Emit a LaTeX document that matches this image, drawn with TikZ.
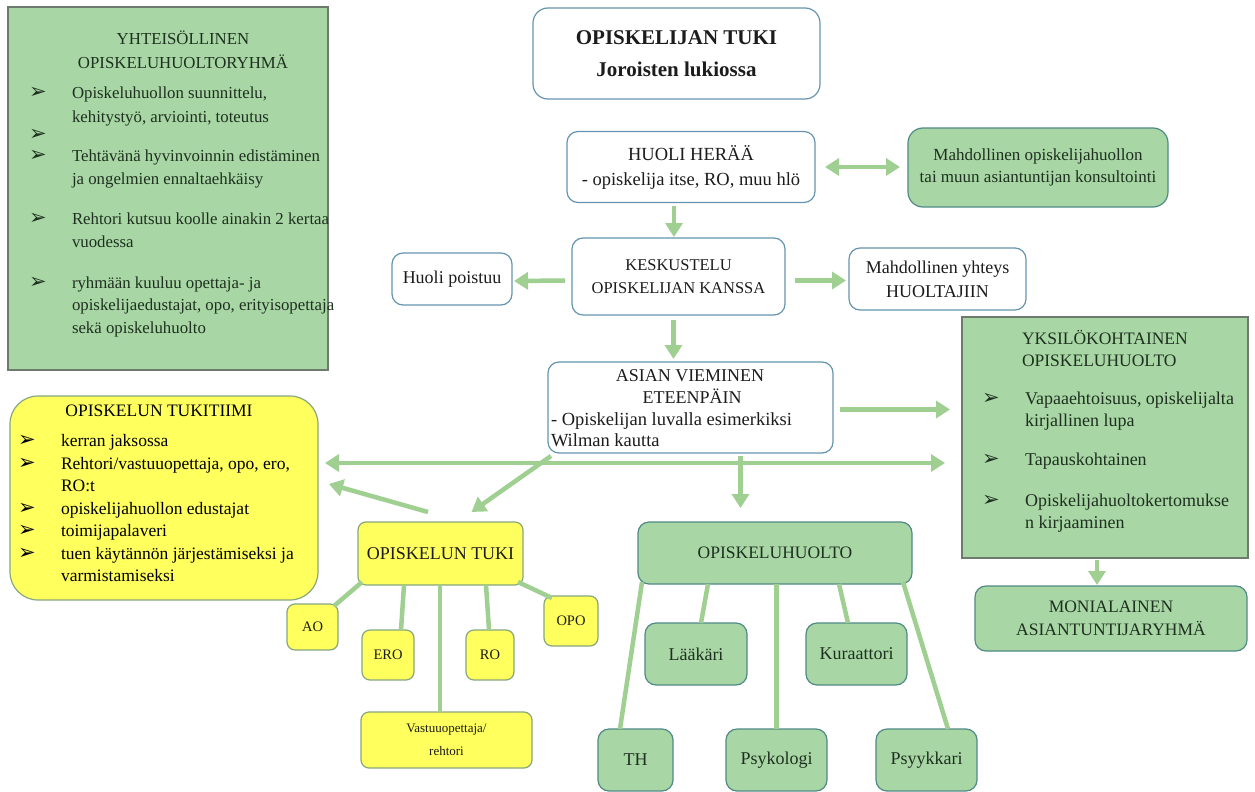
\documentclass[tikz,border=0pt]{standalone}
\usepackage{fontspec}
\setmainfont{Liberation Serif}
\newfontfamily\symf{DejaVu Sans}
\usetikzlibrary{arrows.meta,calc}
\definecolor{lgreen}{HTML}{A8D6A5}
\definecolor{gborder}{HTML}{4F8A86}
\definecolor{sqborder}{HTML}{6E7A6E}
\definecolor{bblue}{HTML}{6595AE}
\definecolor{yfill}{HTML}{FFFF5E}
\definecolor{yborder}{HTML}{86A67E}
\definecolor{cgreen}{HTML}{A0CF92}
\definecolor{gtext}{HTML}{1E301F}
\definecolor{txtdark}{HTML}{1C1C1C}
\newcommand\fs[2]{\fontsize{#1}{#2}\selectfont}
\newcommand\bul{{\symf\fontsize{21}{21}\selectfont ➢}}
\begin{document}
\begin{tikzpicture}[x=1pt,y=-1pt,
  base/.style={inner sep=0pt, outer sep=0pt, line width=1.2pt, align=center, text=txtdark},
  wbox/.style={base, draw=bblue, fill=white, rounded corners=11pt},
  gbox/.style={base, draw=gborder, fill=lgreen, rounded corners=11pt, text=gtext},
  sqbox/.style={base, draw=sqborder, fill=lgreen, text=gtext},
  ybox/.style={base, draw=yborder, fill=yfill, rounded corners=8pt, text=txtdark},
  con/.style={draw=cgreen, line width=4.5pt},
  arr/.style={con, -{Triangle[width=17pt,length=14pt]}},
  darr/.style={con, {Triangle[width=17pt,length=14pt]}-{Triangle[width=17pt,length=14pt]}},
  ln/.style={inner sep=0pt, outer sep=0pt, anchor=base west, font=\fs{17.5}{22}},
  lnc/.style={inner sep=0pt, outer sep=0pt, anchor=base, font=\fs{17.5}{22}},
  bl/.style={inner sep=0pt, outer sep=0pt, anchor=base west},
]
\fill[white] (0,0) rectangle (1255,792);
\useasboundingbox (0,0) rectangle (1255,792);

% ---------- boxes ----------
\node[sqbox, minimum width=320pt, minimum height=363pt] (yht) at (168,188.5) {};
\node[wbox, rounded corners=15pt, minimum width=287pt, minimum height=91pt, font=\bfseries\fs{21}{32}] (title) at (676.5,53.5) {OPISKELIJAN TUKI\\Joroisten lukiossa};
\node[wbox, minimum width=248pt, minimum height=71pt, font=\fs{18.5}{25}] (huoli) at (691,167) {HUOLI HERÄÄ\\- opiskelija itse, RO, muu hlö};
\node[gbox, rounded corners=15pt, minimum width=260pt, minimum height=79pt, font=\fs{17}{22}] (konsult) at (1038,167.5) {Mahdollinen opiskelijahuollon\\tai muun asiantuntijan konsultointi};
\node[wbox, minimum width=120pt, minimum height=52pt, font=\fs{18}{22}] (poistuu) at (452,279) {Huoli poistuu};
\node[wbox, minimum width=213pt, minimum height=77pt, font=\fs{16.5}{23.5}] (kesk) at (678.5,276.5) {KESKUSTELU\\OPISKELIJAN KANSSA};
\node[wbox, minimum width=177pt, minimum height=62pt, font=\fs{18}{24}] (yhteys) at (937.5,279) {Mahdollinen yhteys\\HUOLTAJIIN};
\node[wbox, minimum width=285pt, minimum height=91pt] (asian) at (690.5,407.5) {};
\node[sqbox, minimum width=286pt, minimum height=241pt] (yks) at (1105,437.5) {};
\node[gbox, minimum width=272pt, minimum height=65pt, font=\fs{17.5}{23.5}] (moni) at (1111,618.5) {MONIALAINEN\\ASIANTUNTIJARYHMÄ};
\node[ybox, rounded corners=28pt, minimum width=308pt, minimum height=204pt] (tiimi) at (164,498) {};
\node[ybox, minimum width=165pt, minimum height=63pt, font=\fs{18}{22}] (tuki) at (440.5,553.5) {OPISKELUN TUKI};
\node[ybox, minimum width=51pt, minimum height=46pt, font=\fs{14.5}{18}] (ao) at (312.5,627) {AO};
\node[ybox, minimum width=52pt, minimum height=50pt, font=\fs{14.5}{18}] (ero) at (388,655) {ERO};
\node[ybox, minimum width=48pt, minimum height=50pt, font=\fs{14.5}{18}] (ro) at (490,655) {RO};
\node[ybox, minimum width=54pt, minimum height=50pt, font=\fs{14.5}{18}] (opo) at (571,621) {OPO};
\node[ybox, minimum width=171pt, minimum height=56pt, font=\fs{13}{23}] (vastuu) at (446.5,740) {Vastuuopettaja/\\rehtori};
\node[gbox, minimum width=274pt, minimum height=62pt, font=\fs{17.5}{22}] (huolto) at (775,553) {OPISKELUHUOLTO};
\node[gbox, minimum width=102pt, minimum height=62pt, font=\fs{18}{22}] (laakari) at (696,654) {Lääkäri};
\node[gbox, minimum width=101pt, minimum height=62pt, font=\fs{18}{22}] (kura) at (856.5,654) {Kuraattori};
\node[gbox, minimum width=75pt, minimum height=62pt, font=\fs{18}{22}] (th) at (635.5,760) {TH};
\node[gbox, minimum width=101pt, minimum height=62pt, font=\fs{18}{22}] (psykologi) at (776.5,760) {Psykologi};
\node[gbox, minimum width=101pt, minimum height=62pt, font=\fs{18}{22}] (psyyk) at (926.5,760) {Psyykkari};

% ---------- texts of box YHTEISÖLLINEN ----------
\begin{scope}[text=gtext, ln/.append style={font=\fs{16.8}{22}}, lnc/.append style={font=\fs{16.8}{22}}]
\node[lnc] (yT1) at (183,45) {YHTEISÖLLINEN};
\node[lnc] (yT2) at (183,68) {OPISKELUHUOLTORYHMÄ};
\node[bl] (yb1) at (29,99) {\bul};
\node[ln] (y1a) at (72,99) {Opiskeluhuollon suunnittelu,};
\node[ln] (y1b) at (72,122) {kehitystyö, arviointi, toteutus};
\node[bl] (yb2) at (29,140) {\bul};
\node[bl] (yb3) at (29,161) {\bul};
\node[ln] (y3a) at (72,161) {Tehtävänä hyvinvoinnin edistäminen};
\node[ln] (y3b) at (72,184) {ja ongelmien ennaltaehkäisy};
\node[bl] (yb4) at (29,224) {\bul};
\node[ln] (y4a) at (72,224) {Rehtori kutsuu koolle ainakin 2 kertaa};
\node[ln] (y4b) at (72,247) {vuodessa};
\node[bl] (yb5) at (29,288) {\bul};
\node[ln] (y5a) at (72,288) {ryhmään kuuluu opettaja- ja};
\node[ln] (y5b) at (72,310) {opiskelijaedustajat, opo, erityisopettaja};
\node[ln] (y5c) at (72,333) {sekä opiskeluhuolto};
\end{scope}

% ---------- texts of ASIAN box ----------
\node[lnc, font=\fs{18}{22}, text=txtdark] (a1) at (690,381) {ASIAN VIEMINEN};
\node[lnc, font=\fs{18}{22}, text=txtdark] (a2) at (692,403) {ETEENPÄIN};
\node[ln, font=\fs{18.5}{22}, text=txtdark] (a3) at (551,425) {- Opiskelijan luvalla esimerkiksi};
\node[ln, font=\fs{18.5}{22}, text=txtdark] (a4) at (551,446) {Wilman kautta};

% ---------- texts of YKSILÖKOHTAINEN box ----------
\begin{scope}[text=gtext]
\node[ln] (k1) at (1022,344) {YKSILÖKOHTAINEN};
\node[ln] (k2) at (1022,366) {OPISKELUHUOLTO};
\node[bl] (kb1) at (982,404) {\bul};
\node[ln, font=\fs{18}{22}] (k3) at (1025,404) {Vapaaehtoisuus, opiskelijalta};
\node[ln, font=\fs{18}{22}] (k4) at (1025,426) {kirjallinen lupa};
\node[bl] (kb2) at (982,465) {\bul};
\node[ln, font=\fs{18}{22}] (k5) at (1025,465) {Tapauskohtainen};
\node[bl] (kb3) at (982,506) {\bul};
\node[ln, font=\fs{18}{22}] (k6) at (1025,506) {Opiskelijahuoltokertomukse};
\node[ln, font=\fs{18}{22}] (k7) at (1025,528) {n kirjaaminen};
\end{scope}

% ---------- texts of TUKITIIMI box ----------
\node[lnc] (t0) at (159,416) {OPISKELUN TUKITIIMI};
\node[bl] (tb1) at (18,446) {\bul};
\node[ln] (t1) at (61,446) {kerran jaksossa};
\node[bl] (tb2) at (18,469) {\bul};
\node[ln] (t2) at (61,469) {Rehtori/vastuuopettaja, opo, ero,};
\node[ln] (t3) at (61,491) {RO:t};
\node[bl] (tb3) at (18,514) {\bul};
\node[ln] (t4) at (61,514) {opiskelijahuollon edustajat};
\node[bl] (tb4) at (18,536) {\bul};
\node[ln] (t5) at (61,536) {toimijapalaveri};
\node[bl] (tb5) at (18,559) {\bul};
\node[ln] (t6) at (61,559) {tuen käytännön järjestämiseksi ja};
\node[ln] (t7) at (61,581) {varmistamiseksi};

% ---------- arrows ----------
\draw[darr] ($(huoli.east)+(10,0)$) -- ($(konsult.west)+(-8,-0.5)$);
\draw[arr] ($(huoli.south)+(-17,3)$) -- ($(kesk.north)+(-4.5,-1)$);
\draw[arr] ($(kesk.west)+(-7,4)$) -- ($(poistuu.east)+(2,2)$);
\draw[arr] ($(kesk.east)+(10,4)$) -- ($(yhteys.west)+(-3,1.5)$);
\draw[arr] ($(kesk.south)+(-5,5)$) -- ($(asian.north)+(-17,-3)$);
\draw[arr] ($(asian.east)+(7,2)$) -- ($(yks.west)+(-12,-28)$);
\draw[arr] ($(asian.south)+(50,3)$) -- ($(huolto.north)+(-34.5,-14)$);
\draw[arr] ($(asian.south west)+(3,3)$) -- ($(tuki.north)+(31,-10)$);
\draw[arr] ($(tuki.north)+(-12.5,-10)$) -- ($(tiimi.east)+(11,-14)$);
\draw[darr] ($(tiimi.east)+(7,-35)$) -- ($(yks.west)+(-17,25.5)$);
\draw[arr] ($(yks.south)+(-8,2)$) -- ($(moni.north)+(-14,-1)$);

% ---------- connectors ----------
\draw[con] ($(tuki.south west)+(4,-3)$) -- ($(ao.north east)+(-4,2)$);
\draw[con] ($(tuki.south)+(-36.5,0)$) -- ($(ero.north)+(13,0)$);
\draw[con] ($(tuki.south)+(-0.5,0)$) -- ($(vastuu.north)+(-6.5,0)$);
\draw[con] ($(tuki.south)+(45.5,0)$) -- ($(ro.north)+(-1,0)$);
\draw[con] ($(tuki.south east)+(-5,-3)$) -- ($(opo.north west)+(8,2)$);
\draw[con] ($(huolto.south west)+(4,-2)$) -- ($(th.north)+(-15.5,0)$);
\draw[con] ($(huolto.south)+(-67,0)$) -- ($(laakari.north)+(5,0)$);
\draw[con] ($(huolto.south)+(1.5,0)$) -- (psykologi.north);
\draw[con] ($(huolto.south)+(64,0)$) -- ($(kura.north)+(-8.5,0)$);
\draw[con] ($(huolto.south east)+(-9,-2)$) -- ($(psyyk.north)+(21.5,0)$);
\end{tikzpicture}
\end{document}
